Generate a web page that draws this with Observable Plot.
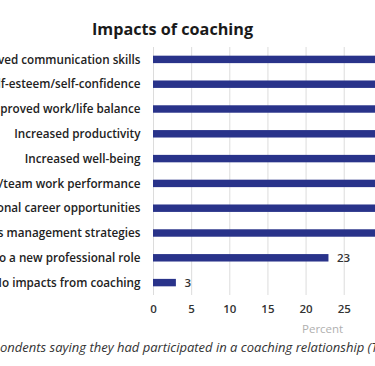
<!DOCTYPE html>
<html>
<head>
<meta charset="utf-8">
<script src="https://cdn.jsdelivr.net/npm/d3@7"></script>
<script src="https://cdn.jsdelivr.net/npm/@observablehq/plot@0.6"></script>
<style>
  html, body { margin: 0; padding: 0; background: #fff; }
  #wrap { position: relative; width: 375px; height: 366px; overflow: hidden; font-family: "Open Sans", sans-serif; }
  #title { position: absolute; left: 0; width: 345px; top: 18px; text-align: center; font-size: 16.2px; font-weight: 700; color: #1a1a1a; line-height: 22px; }
  #chart { position: absolute; top: 0; left: -107px; width: 804px; }
  #chart svg { max-width: none !important; }
  #xlabel { position: absolute; left: 302px; top: 321px; font-size: 11.5px; color: #b0b0b0; font-weight: 500; }
  #caption { position: absolute; top: 338px; white-space: nowrap; font-size: 13px; font-style: italic; color: #333; }
</style>
</head>
<body>
<div id="wrap">
  <div id="title">Impacts of coaching</div>
  <div id="chart"></div>
  <div id="xlabel">Percent</div>
  <div id="caption"><span id="cap-pre">Base: all resp</span><span>ondents saying they had participated in a coaching relationship (Total)</span></div>
</div>
<script>
const categories = [
  "Improved communication skills",
  "Improved self-esteem/self-confidence",
  "Improved work/life balance",
  "Increased productivity",
  "Increased well-being",
  "Improved individual/team work performance",
  "Additional career opportunities",
  "Improved stress management strategies",
  "Transition to a new professional role",
  "No impacts from coaching"
];
const values = [62, 57, 53, 49, 46, 44, 41, 37, 23, 3];
const xTicks = [0, 5, 10, 15, 20, 25, 30, 35, 40, 45, 50, 55, 60, 65, 70];

const data = categories.map((c, i) => ({label: c, value: values[i]}));

const chart = Plot.plot({
  width: 804,
  height: 330,
  marginLeft: 260,
  marginRight: 10,
  marginTop: 47,
  marginBottom: 35,
  style: {fontFamily: "'Open Sans', sans-serif", fontSize: "11px", color: "#222", background: "transparent", maxWidth: "none"},
  x: {domain: [0, 70], label: null},
  y: {domain: categories, paddingInner: 0.7, paddingOuter: 0.35, round: false, label: null},
  marks: [
    Plot.ruleX(xTicks, {stroke: "#dcdcdc", strokeWidth: 1}),
    Plot.barX(data, {x: "value", y: "label", fill: "#29338a"}),
    Plot.text(data, {x: "value", y: "label", text: d => String(d.value), dx: 8, textAnchor: "start", fontWeight: 600, fill: "#333", fontSize: 11.5}),
    Plot.axisX({ticks: xTicks, tickSize: 0, tickPadding: 9, label: null, fontWeight: 600, fill: "#333", fontSize: 11.5}),
    Plot.axisY({tickSize: 0, tickPadding: 13, label: null, fontWeight: 600, fill: "#222", fontSize: 11.7})
  ]
});
document.getElementById("chart").appendChild(chart);

const pre = document.getElementById("cap-pre");
document.getElementById("caption").style.left = (-pre.getBoundingClientRect().width) + "px";
</script>
</body>
</html>
